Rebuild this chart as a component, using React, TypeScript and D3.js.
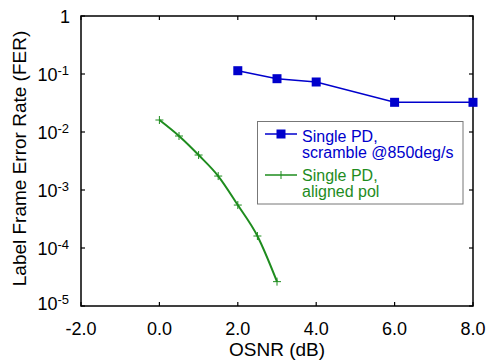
import React from "react";
import * as d3 from "d3";

const blueX = [2, 3, 4, 6, 8];
const blueY = [0.114, 0.083, 0.0728, 0.0325, 0.0325];
const greenX = [0, 0.5, 1, 1.5, 2, 2.5, 3];
const greenY = [0.0161, 0.00853, 0.00401, 0.00174, 0.00055, 0.000161, 0.0000263];
const xTicks = [-2, 0, 2, 4, 6, 8];
const yExps = [0, -1, -2, -3, -4, -5];

const W = 486, H = 360;
const L = 81, R = 473, T = 16, B = 306;
const BLUE = "#0000CC";
const GREEN = "#1E8C1E";
const FONT = "Liberation Sans, Arial, sans-serif";

export default function App() {
  const x = d3.scaleLinear().domain([-2, 8]).range([L, R]);
  const y = d3.scaleLog().domain([1e-5, 1]).range([B, T]);
  const bPath = d3.line<[number, number]>().x(d => x(d[0])).y(d => y(d[1]))(blueX.map((v, i) => [v, blueY[i]]));
  const gPath = d3.line<[number, number]>().x(d => x(d[0])).y(d => y(d[1])).curve(d3.curveMonotoneX)(greenX.map((v, i) => [v, greenY[i]]));
  return (
    <svg width={W} height={H} style={{ position: "absolute", left: 0, top: 0 }} fontFamily={FONT}>
      <rect x={0} y={0} width={W} height={H} fill="white" />
      <rect x={L} y={T} width={R - L} height={B - T} fill="none" stroke="black" strokeWidth={1.5} />
      {xTicks.map(t => (
        <g key={"x" + t}>
          <line x1={x(t)} x2={x(t)} y1={B} y2={B - 4} stroke="black" strokeWidth={1.2} />
          <line x1={x(t)} x2={x(t)} y1={T} y2={T + 4} stroke="black" strokeWidth={1.2} />
          <text x={x(t)} y={335} fontSize={18} textAnchor="middle">{t.toFixed(1)}</text>
        </g>
      ))}
      {yExps.map(e => {
        const yy = y(Math.pow(10, e));
        const off = e === -5 ? -3 : 0;
        return (
          <g key={"y" + e}>
            <line x1={L} x2={L + 4} y1={yy} y2={yy} stroke="black" strokeWidth={1.2} />
            <line x1={R} x2={R - 4} y1={yy} y2={yy} stroke="black" strokeWidth={1.2} />
            {e === 0 ? (
              <text x={70} y={yy + 7} fontSize={18} textAnchor="end">1</text>
            ) : (
              <text x={69} y={yy + 7 + off} fontSize={18} textAnchor="end">
                10<tspan fontSize={13} dy={-6}>{e}</tspan>
              </text>
            )}
          </g>
        );
      })}
      <text x={277} y={356} fontSize={19} textAnchor="middle">OSNR (dB)</text>
      <text transform={`translate(26,158.5) rotate(-90)`} fontSize={19} textAnchor="middle">Label Frame Error Rate (FER)</text>

      <path d={gPath || ""} fill="none" stroke={GREEN} strokeWidth={2} />
      {greenX.map((v, i) => (
        <g key={"g" + i} stroke={GREEN} strokeWidth={1}>
          <line x1={x(v) - 4} x2={x(v) + 4} y1={y(greenY[i])} y2={y(greenY[i])} />
          <line x1={x(v)} x2={x(v)} y1={y(greenY[i]) - 4} y2={y(greenY[i]) + 4} />
        </g>
      ))}
      <path d={bPath || ""} fill="none" stroke={BLUE} strokeWidth={1.5} />
      {blueX.map((v, i) => (
        <rect key={"b" + i} x={x(v) - 4.5} y={y(blueY[i]) - 4.5} width={9} height={9} fill={BLUE} />
      ))}

      <rect x={257.5} y={121.5} width={205.5} height={82.5} fill="white" stroke="#777" strokeWidth={1} />
      <line x1={265} x2={297} y1={134} y2={134} stroke={BLUE} strokeWidth={1.5} />
      <rect x={276.5} y={129.5} width={9} height={9} fill={BLUE} />
      <text x={302} y={142} fontSize={16} fill={BLUE}>Single PD,</text>
      <text x={302} y={158} fontSize={16} fill={BLUE}>scramble @850deg/s</text>
      <line x1={265} x2={297} y1={175} y2={175} stroke={GREEN} strokeWidth={1.5} />
      <line x1={281} x2={281} y1={171} y2={179} stroke={GREEN} strokeWidth={1} />
      <text x={302} y={181} fontSize={16} fill={GREEN}>Single PD,</text>
      <text x={302} y={197} fontSize={16} fill={GREEN}>aligned pol</text>
    </svg>
  );
}
